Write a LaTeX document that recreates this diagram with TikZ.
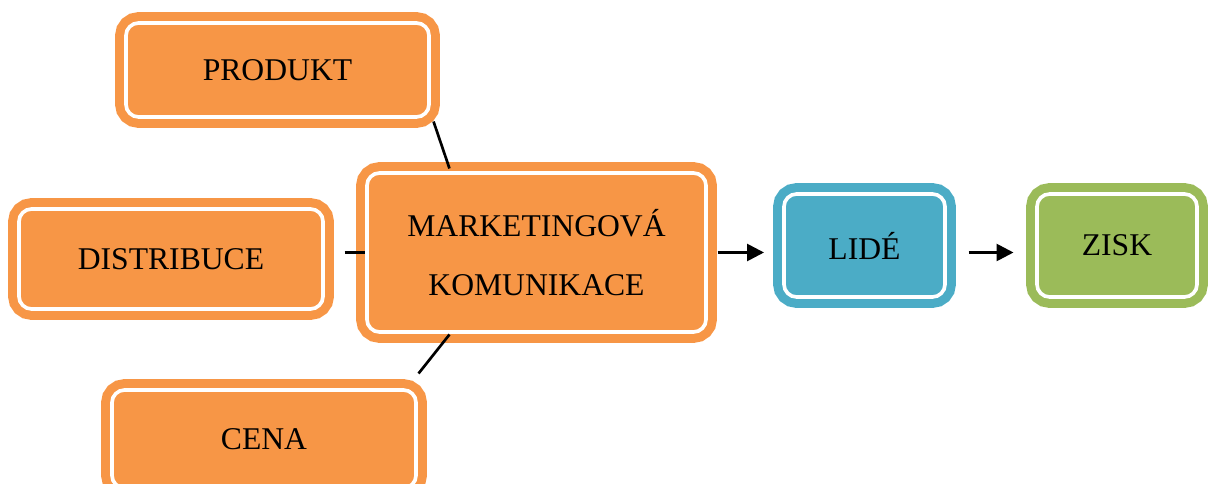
\documentclass[tikz,border=0pt]{standalone}
\usepackage{fontspec}
\setmainfont{Liberation Serif}
\usepackage{tikz}
\usetikzlibrary{arrows.meta, positioning, calc}

\definecolor{mixorange}{HTML}{F79646}
\definecolor{peopleblue}{HTML}{4BACC6}
\definecolor{profitgreen}{HTML}{9BBB59}

\begin{document}
\begin{tikzpicture}[x=0.025cm, y=-0.025cm,
    box/.style={rectangle, rounded corners=9pt, line width=6.4pt,
      double=white, double distance=2.6pt, inner sep=0pt,
      font=\fontsize{22.5}{42}\selectfont, align=center},
    orangebox/.style={box, draw=mixorange, fill=mixorange},
    link/.style={line width=1.9pt},
    arrow/.style={link, -{Triangle[length=12pt, width=12pt]}}]
  \useasboundingbox (0,0) rectangle (1209,484);

  % --- Marketing mix (orange boxes) ---
  \node[orangebox, minimum width=7.575cm, minimum height=2.35cm] (prod) at (277.5,70) {PRODUKT};
  \node[orangebox, minimum width=7.6cm, minimum height=2.5cm] (dist) at (171,259) {DISTRIBUCE};
  \node[orangebox, minimum width=7.6cm, minimum height=2.45cm] (cena) at (264,439) {CENA};

  % Centre box
  \node[orangebox, minimum width=8.475cm, minimum height=3.975cm] (mk) at (536.5,252.5)
    {MARKETINGOVÁ\\KOMUNIKACE};

  % --- Result boxes ---
  \node[box, draw=peopleblue, fill=peopleblue, minimum width=4.025cm, minimum height=2.575cm]
    (lide) at (864.5,245.5) {LIDÉ};
  \node[box, draw=profitgreen, fill=profitgreen, minimum width=4cm, minimum height=2.575cm]
    (zisk) at (1117,245.5) {ZISK};

  % --- Links to the centre ---
  \draw[link] (prod.south east) -- ($(mk.north west)!0.25!(mk.north east)$);
  \draw[link] ($(dist.east |- mk.west)+(17,0)$) -- ($(mk.west)+(3,0)$);
  \draw[link] ($(cena.north east)+(-2,-12)$) -- ($(mk.south west)!0.25!(mk.south east)+(0,-2)$);

  % --- Flow arrows ---
  \draw[arrow, shorten <=5pt, shorten >=11pt] (mk.east) -- (lide.west |- mk.east);
  \draw[arrow, shorten <=13.5pt, shorten >=13.5pt] (lide.east |- mk.east) -- (zisk.west |- mk.east);

\end{tikzpicture}
\end{document}
